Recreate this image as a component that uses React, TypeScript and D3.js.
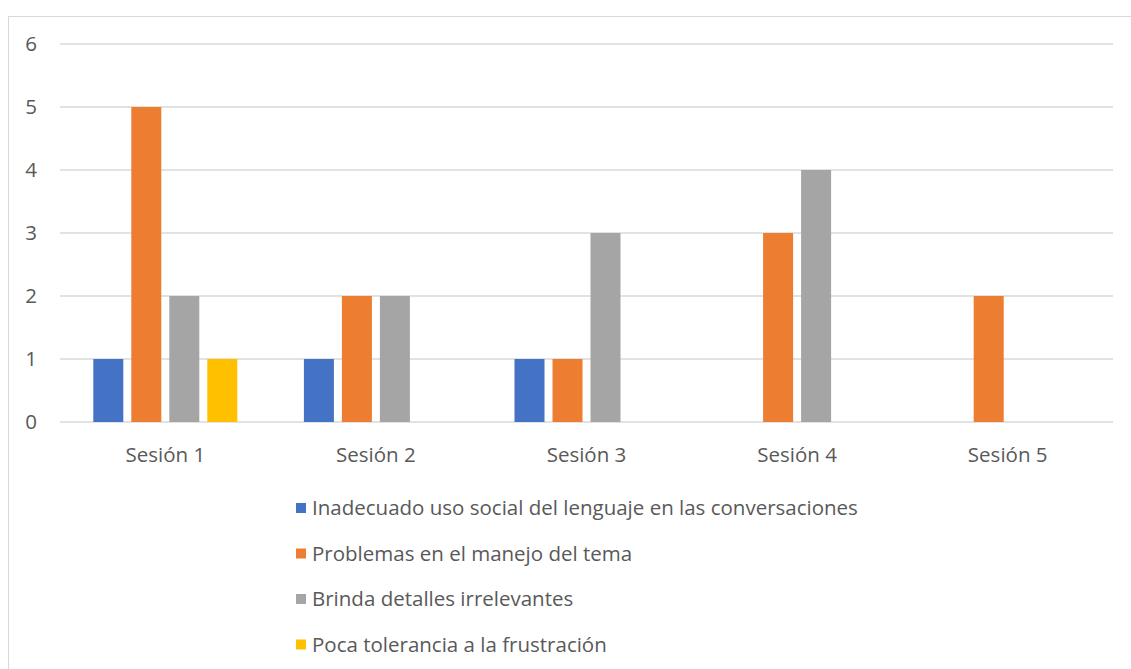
import React from 'react';
import * as d3 from 'd3';

const sessions = ['Sesión 1', 'Sesión 2', 'Sesión 3', 'Sesión 4', 'Sesión 5'];
const seriesNames = [
  'Inadecuado uso social del lenguaje en las conversaciones',
  'Problemas en el manejo del tema',
  'Brinda detalles irrelevantes',
  'Poca tolerancia a la frustración',
];
const seriesColors = ['#4472C4', '#ED7D31', '#A5A5A5', '#FFC000'];
const inadecuado = [1, 1, 1, 0, 0];
const problemas = [5, 2, 1, 3, 2];
const detalles = [2, 2, 3, 4, 0];
const tolerancia = [1, 0, 0, 0, 0];
const yTicks = [0, 1, 2, 3, 4, 5, 6];

const seriesValues = [inadecuado, problemas, detalles, tolerancia];

const W = 1131;
const H = 669;
const plot = { left: 60, right: 1113, top: 44, bottom: 422 };
const font = "'Open Sans', sans-serif";
const fontSize = 20.5;
const textColor = '#595959';

export default function App() {
  const x = d3.scaleBand<string>().domain(sessions).range([plot.left, plot.right]);
  const bw = x.bandwidth();
  // group of 4 bars, 30px each with 8px gap, centered in each category
  const inner = d3
    .scaleBand<number>()
    .domain(d3.range(seriesNames.length))
    .range([bw / 2 - 72, bw / 2 + 72])
    .paddingInner(8 / 38);
  const y = d3.scaleLinear().domain([0, 6]).range([plot.bottom, plot.top]);

  return (
    <svg
      width={W}
      height={H}
      style={{ position: 'absolute', left: 0, top: 0, background: '#fff' }}
    >
      <rect x={8.5} y={16.5} width={1200} height={800} fill="#fff" stroke="#d9d9d9" strokeWidth={1} />

      {/* grid + y labels */}
      {yTicks.map((t) => (
        <g key={t}>
          <line x1={plot.left} x2={plot.right} y1={y(t)} y2={y(t)} stroke="#d9d9d9" strokeWidth={1.3} />
          <text
            x={37}
            y={y(t)}
            dy="0.35em"
            textAnchor="end"
            fontFamily={font}
            fontSize={fontSize}
            fill={textColor}
          >
            {t}
          </text>
        </g>
      ))}

      {/* bars */}
      {sessions.map((s, i) => (
        <g key={s} transform={`translate(${x(s)},0)`}>
          {seriesValues.map((vals, k) =>
            vals[i] > 0 ? (
              <rect
                key={k}
                x={inner(k)}
                y={y(vals[i])}
                width={inner.bandwidth()}
                height={y(0) - y(vals[i])}
                fill={seriesColors[k]}
              />
            ) : null
          )}
          <text
            x={bw / 2}
            y={462}
            textAnchor="middle"
            fontFamily={font}
            fontSize={fontSize}
            fill={textColor}
          >
            {s}
          </text>
        </g>
      ))}

      {/* legend */}
      {seriesNames.map((name, k) => (
        <g key={name} transform={`translate(296,${508 + k * 45.5})`}>
          <rect x={0} y={-5} width={10} height={10} fill={seriesColors[k]} />
          <text x={16} y={0} dy="0.35em" fontFamily={font} fontSize={fontSize} fill={textColor}>
            {name}
          </text>
        </g>
      ))}
    </svg>
  );
}
